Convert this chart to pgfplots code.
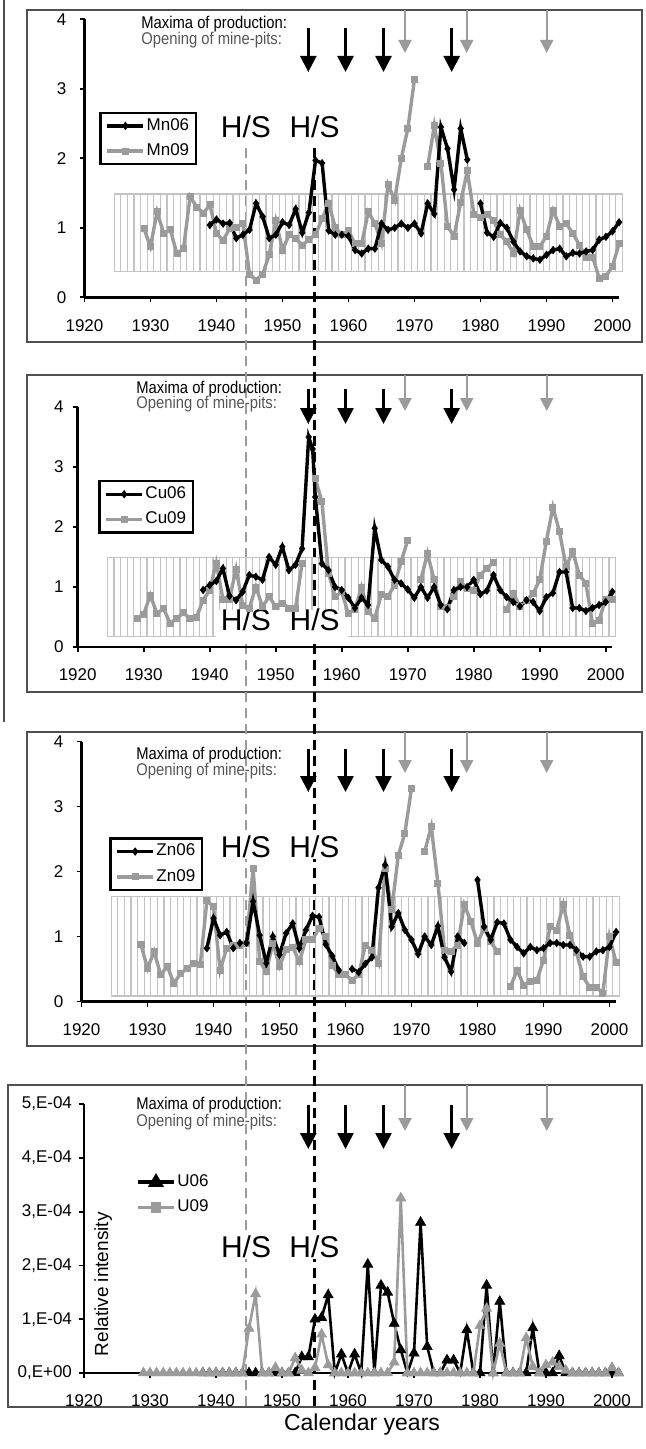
\documentclass[border=0pt]{standalone}
\usepackage{pgfplots}
\pgfplotsset{compat=1.18}
\usepackage{fontspec}
\setmainfont{Liberation Sans}
\newfontfamily\narrowfont[FakeStretch=0.87]{Liberation Sans}
\usetikzlibrary{arrows.meta}

\definecolor{sgray}{RGB}{155,155,155}
\definecolor{bandgray}{RGB}{195,195,195}
\definecolor{framegray}{RGB}{80,80,80}
\definecolor{txtgray}{RGB}{85,85,85}

\pgfplotsset{
 panel/.style={scale only axis, width=267.3pt, xmin=1920, xmax=2001, ymin=0,
  axis x line*=bottom, axis y line*=left,
  axis line style={line width=1.3pt,-},
  tick align=outside, major tick length=2.5pt,
  tick style={line width=0.9pt,black},
  xtick={1920,1930,...,2000},
  ticklabel style={font=\fontsize{8.5}{10}\selectfont},
  xticklabel style={yshift=-5pt},
  /pgf/number format/assume math mode=true,
  /pgf/number format/1000 sep={},
  clip=false, unbounded coords=jump,
  legend cell align=left,
  legend image code/.code={\draw[mark repeat=2,mark phase=2,##1] plot coordinates {(0pt,0pt) (9pt,0pt) (18pt,0pt)};},
  legend style={anchor=north west, draw=black, line width=1.2pt, font=\fontsize{8.5}{10}\selectfont,
    inner xsep=2.5pt, inner ysep=1.3pt, row sep=2.2pt, nodes={inner xsep=0.8pt, inner ysep=1.5pt}},
 },
 blk/.style={black, line width=1.7pt, mark=diamond*, mark size=1.8pt, mark options={solid, line width=0.4pt}},
 gry/.style={sgray, line width=1.7pt, mark=square*, mark size=1.5pt, mark options={solid, line width=0.4pt}},
 blkU/.style={black, line width=1.3pt, mark=triangle*, mark size=2.9pt, mark options={solid, line width=0.3pt}},
 gryU/.style={sgray, line width=1.3pt, mark=triangle*, mark size=2.9pt, mark options={solid, line width=0.3pt}},
}

\newcommand{\band}[2]{%
  \draw[bandgray, line width=0.55pt] (axis cs:1924.5,#1) rectangle (axis cs:2001.5,#2);
  \pgfplotsinvokeforeach{1925,...,2000}{\draw[bandgray, line width=0.55pt] (axis cs:##1.5,#1) -- (axis cs:##1.5,#2);}
}
\newcommand{\hs}{\fontsize{15}{17}\selectfont H/S}

\begin{document}
\begin{tikzpicture}
\path[use as bounding box] (0,0) rectangle (322.5pt,-724.5pt);

% frames, left rule and reference dashed lines (annotation, pixel coordinates)
\begin{scope}[x=0.5pt,y=-0.5pt]
\draw[framegray, line width=0.8pt] (27,10) rectangle (642,342);
\draw[framegray, line width=0.8pt] (27,375) rectangle (642,692);
\draw[framegray, line width=0.8pt] (27,732) rectangle (642,1046);
\draw[framegray, line width=0.8pt] (8,1085) rectangle (642,1407);
\draw[framegray, line width=0.6pt] (4,0) -- (4,722);
\draw[sgray, line width=1pt, dash pattern=on 5pt off 3pt] (246,148) -- (246,1407);
\draw[black, line width=1.2pt, dash pattern=on 5pt off 3pt] (314.5,148) -- (314.5,1407);
\end{scope}

% ---------------- Panel 1: Mn ----------------
\begin{axis}[panel, at={(42.25pt,-148.65pt)}, anchor=south west, height=139pt,
  ymax=4, ytick={0,1,2,3,4}, yticklabel style={xshift=-3pt},
  legend style={at={(0.028,0.668)}}]
\band{0.37}{1.486}
\node[fill=white, inner sep=0.5pt] at (axis cs:1944.47,2.45) {\hs};
\node[fill=white, inner sep=0.5pt] at (axis cs:1954.85,2.45) {\hs};
\addplot[gry, forget plot] table {
x y
1929 0.99
1930 0.73
1931 1.23
1932 0.92
1933 0.97
1934 0.63
1935 0.70
1936 1.45
1937 1.30
1938 1.21
1939 1.33
1940 0.92
1941 0.82
1942 0.99
1943 1.00
1944 1.06
1945 0.33
1946 0.25
1947 0.33
1948 0.62
1949 1.10
1950 0.68
1951 0.90
1952 0.85
1953 0.75
1954 0.83
1955 0.90
1956 1.13
1957 1.35
1958 1.00
1959 0.90
1960 0.96
1961 0.77
1962 0.77
1963 1.23
1964 1.06
1965 0.78
1966 1.62
1967 1.40
1968 2.00
1969 2.43
1970 3.14
1971 nan
1972 1.88
1973 2.47
1974 1.93
1975 1.02
1976 0.88
1977 1.37
1978 1.82
1979 1.20
1980 1.15
1981 1.20
1982 1.10
1983 0.90
1984 0.80
1985 0.63
1986 1.25
1987 0.97
1988 0.73
1989 0.73
1990 0.88
1991 1.25
1992 1.02
1993 1.06
1994 0.92
1995 0.75
1996 0.58
1997 0.58
1998 0.27
1999 0.30
2000 0.45
2001 0.77
};
\addplot[blk, forget plot] table {
x y
1939 1.04
1940 1.12
1941 1.06
1942 1.07
1943 0.85
1944 0.90
1945 0.97
1946 1.35
1947 1.16
1948 0.85
1949 0.90
1950 1.08
1951 1.04
1952 1.27
1953 0.93
1954 1.22
1955 1.97
1956 1.93
1957 0.96
1958 0.90
1959 0.90
1960 0.88
1961 0.68
1962 0.63
1963 0.70
1964 0.70
1965 1.06
1966 0.97
1967 1.00
1968 1.06
1969 1.00
1970 1.06
1971 0.92
1972 1.35
1973 1.20
1974 2.45
1975 2.14
1976 1.55
1977 2.43
1978 1.98
1979 nan
1980 1.35
1981 0.93
1982 0.87
1983 1.07
1984 1.00
1985 0.80
1986 0.66
1987 0.59
1988 0.56
1989 0.54
1990 0.61
1991 0.68
1992 0.70
1993 0.59
1994 0.64
1995 0.63
1996 0.66
1997 0.68
1998 0.83
1999 0.87
2000 0.95
2001 1.08
};
\addlegendimage{blk}\addlegendentry{Mn06}
\addlegendimage{gry}\addlegendentry{Mn09}
\end{axis}

% ---------------- Panel 2: Cu ----------------
\begin{axis}[panel, at={(38.85pt,-323.5pt)}, anchor=south west, height=120pt,
  ymax=4, ytick={0,1,2,3,4}, yticklabel style={xshift=-1pt},
  legend style={at={(0.0385,0.696)}}]
\band{0.17}{1.49}
\fill[white] (axis cs:1941,0.1) rectangle (axis cs:1961,0.62);
\node[inner sep=0.5pt] at (axis cs:1945.5,0.46) {\hs};
\node[inner sep=0.5pt] at (axis cs:1955.9,0.46) {\hs};
\addplot[gry, forget plot] table {
x y
1929 0.48
1930 0.55
1931 0.86
1932 0.56
1933 0.64
1934 0.40
1935 0.47
1936 0.57
1937 0.48
1938 0.50
1939 0.78
1940 0.95
1941 1.40
1942 0.80
1943 0.80
1944 1.30
1945 0.70
1946 0.65
1947 1.00
1948 0.67
1949 0.84
1950 0.67
1951 0.73
1952 0.65
1953 0.64
1954 1.40
1955 nan
1956 2.81
1957 2.42
1958 1.23
1959 0.84
1960 0.92
1961 0.56
1962 0.62
1963 1.00
1964 0.59
1965 0.48
1966 0.87
1967 0.84
1968 1.03
1969 1.42
1970 1.78
1971 nan
1972 1.12
1973 1.56
1974 1.12
1975 0.68
1976 0.66
1977 0.85
1978 1.09
1979 0.98
1980 0.95
1981 1.20
1982 1.31
1983 1.41
1984 nan
1985 0.62
1986 0.90
1987 0.67
1988 0.78
1989 0.89
1990 1.12
1991 1.76
1992 2.33
1993 1.92
1994 1.34
1995 1.59
1996 1.20
1997 1.06
1998 0.39
1999 0.45
2000 0.80
2001 0.80
};
\addplot[blk, forget plot] table {
x y
1939 0.95
1940 1.03
1941 1.10
1942 1.31
1943 0.85
1944 0.78
1945 0.92
1946 1.20
1947 1.17
1948 1.12
1949 1.50
1950 1.37
1951 1.67
1952 1.28
1953 1.37
1954 1.64
1955 3.50
1955.6 3.30
1956 2.50
1957 1.39
1958 1.28
1959 1.00
1960 0.95
1961 0.82
1962 0.65
1963 0.82
1964 0.70
1965 1.98
1966 1.45
1967 1.34
1968 1.12
1969 1.06
1970 0.96
1971 0.82
1972 1.00
1973 0.82
1974 1.00
1975 0.70
1976 0.63
1977 0.95
1978 1.00
1979 1.00
1980 1.12
1981 0.88
1982 0.94
1983 1.20
1984 0.95
1985 0.83
1986 0.75
1987 0.68
1988 0.78
1989 0.75
1990 0.60
1991 0.83
1992 0.90
1993 1.25
1994 1.25
1995 0.65
1996 0.65
1997 0.60
1998 0.65
1999 0.70
2000 0.75
2001 0.92
};
\addlegendimage{blk}\addlegendentry{Cu06}
\addlegendimage{gry}\addlegendentry{Cu09}
\end{axis}

% ---------------- Panel 3: Zn ----------------
\begin{axis}[panel, at={(40.75pt,-500.75pt)}, anchor=south west, height=130pt,
  ymax=4, ytick={0,1,2,3,4}, yticklabel style={xshift=-3pt},
  legend style={at={(0.052,0.6315)}}]
\band{0.085}{1.61}
\node[fill=white, inner sep=0.5pt] at (axis cs:1944.92,2.38) {\hs};
\node[fill=white, inner sep=0.5pt] at (axis cs:1955.3,2.38) {\hs};
\addplot[gry, forget plot] table {
x y
1929 0.88
1930 0.51
1931 0.77
1932 0.41
1933 0.54
1934 0.28
1935 0.43
1936 0.51
1937 0.59
1938 0.57
1939 1.55
1940 1.46
1941 0.48
1942 0.82
1943 0.87
1944 0.87
1945 0.90
1946 2.05
1947 0.62
1948 0.46
1949 0.90
1950 0.54
1951 0.80
1952 0.84
1953 0.61
1954 0.95
1955 0.95
1956 1.13
1957 1.00
1958 0.55
1959 0.41
1960 0.41
1961 0.33
1962 0.41
1963 0.87
1964 0.79
1965 0.59
1966 2.05
1967 1.41
1968 2.25
1969 2.59
1970 3.28
1971 nan
1972 2.31
1973 2.69
1974 1.82
1975 0.79
1976 0.77
1977 0.87
1978 1.49
1979 1.23
1980 0.90
1981 1.13
1982 0.92
1983 0.77
1984 nan
1985 0.23
1986 0.48
1987 0.25
1988 0.31
1989 0.33
1990 0.64
1991 1.15
1992 1.10
1993 1.49
1994 1.02
1995 0.75
1996 0.38
1997 0.22
1998 0.22
1999 0.13
2000 1.00
2001 0.60
};
\addplot[blk, forget plot] table {
x y
1939 0.82
1940 1.28
1941 1.02
1942 1.07
1943 0.82
1944 0.90
1945 0.90
1946 1.54
1947 1.02
1948 0.59
1949 1.00
1950 0.72
1951 1.05
1952 1.20
1953 0.82
1954 1.10
1955 1.32
1956 1.30
1957 0.88
1958 0.70
1959 0.48
1960 nan
1961 0.50
1962 0.45
1963 0.58
1964 0.68
1965 1.75
1966 2.10
1967 1.15
1968 1.36
1969 1.10
1970 0.95
1971 0.73
1972 1.00
1973 0.87
1974 1.16
1975 0.68
1976 0.46
1977 1.00
1978 0.90
1979 nan
1980 1.87
1981 1.15
1982 0.95
1983 1.22
1984 1.20
1985 0.95
1986 0.84
1987 0.74
1988 0.84
1989 0.79
1990 0.82
1991 0.90
1992 0.90
1993 0.87
1994 0.87
1995 0.79
1996 0.69
1997 0.69
1998 0.77
1999 0.79
2000 0.84
2001 1.07
};
\addlegendimage{blk}\addlegendentry{Zn06}
\addlegendimage{gry}\addlegendentry{Zn09}
\end{axis}

% ---------------- Panel 4: U (values in units of 1E-04) ----------------
\begin{axis}[panel, at={(42pt,-686.5pt)}, anchor=south west, height=134.5pt,
  ymax=5, ytick={0,1,2,3,4,5},
  yticklabels={{0,E+00},{1,E-04},{2,E-04},{3,E-04},{4,E-04},{5,E-04}},
  yticklabel style={xshift=0pt},
  legend style={at={(0.086,0.762)}, draw=none}]
\node[fill=white, inner sep=0.5pt] at (axis cs:1944.55,2.35) {\hs};
\node[fill=white, inner sep=0.5pt] at (axis cs:1954.92,2.35) {\hs};
\node[rotate=90, font=\fontsize{9.5}{11}\selectfont] at (axis cs:1922.9,1.65) {Relative intensity};
\addplot[blkU, forget plot] table {
x y
1938 0
1939 0
1940 0
1941 0
1942 0
1943 0
1944 0
1945 0
1946 0
1947 0
1948 0
1949 0
1950 0
1951 0
1952 0
1953 0.30
1954 0.30
1955 1.00
1956 1.03
1957 1.45
1958 0
1959 0.35
1960 0
1961 0.35
1962 0
1963 2.02
1964 0
1965 1.63
1966 1.50
1967 0.92
1968 0.43
1969 0
1970 0.37
1971 2.80
1972 0.49
1973 0
1974 0
1975 0.24
1976 0.24
1977 0
1978 0.80
1979 0
1980 0
1981 1.63
1982 0
1983 1.33
1984 0
1985 0
1986 0
1987 0
1988 0.84
1989 0
1990 0
1991 0
1992 0.32
1993 0
1994 0
1995 0
1996 0
1997 0
1998 0
1999 0
2000 0
2001 0
};
\addplot[gryU, forget plot] table {
x y
1929 0
1930 0
1931 0
1932 0
1933 0
1934 0
1935 0
1936 0
1937 0
1938 0
1939 0
1940 0
1941 0
1942 0
1943 0
1944 0
1945 0.83
1946 1.47
1947 0
1948 0
1949 0.10
1950 0
1951 0
1952 0.28
1953 0.05
1954 0
1955 0.10
1956 0.72
1957 0.15
1958 0
1959 0
1960 0
1961 0
1962 0
1963 0
1964 0
1965 0
1966 0
1967 0.20
1968 3.25
1969 0
1970 0
1971 0
1972 0
1973 0
1974 0
1975 0
1976 0
1977 0
1978 0
1979 0
1980 0.88
1981 1.20
1982 0
1983 0.55
1984 0
1985 0
1986 0
1987 0.65
1988 0.12
1989 0
1990 0.15
1991 0.20
1992 0.12
1993 0.05
1994 0
1995 0
1996 0
1997 0
1998 0
1999 0
2000 0.10
2001 0
};
\addlegendimage{black, line width=1.8pt, mark=triangle*, mark size=2.8pt}\addlegendentry{U06}
\addlegendimage{sgray, line width=1.8pt, mark=square*, mark size=1.7pt}\addlegendentry{U09}
\end{axis}

% arrows and texts (annotation, pixel coordinates)
\begin{scope}[x=0.5pt,y=-0.5pt]
\tikzset{barr/.style={black, line width=1.3pt, -{Triangle[width=8pt,length=8pt]}},
         garr/.style={sgray, line width=1pt, -{Triangle[width=6.5pt,length=6.5pt]}},
         ttl/.style={anchor=west, inner sep=0pt, font=\narrowfont\fontsize{8.5}{10}\selectfont}}
% panel 1
\foreach \x in {308.3,345.5,383.5,451.7} \draw[barr] (\x,28) -- (\x,72);
\foreach \x in {405,466.7,546.7} \draw[garr] (\x,10) -- (\x,53);
\node[ttl] at (141,24) {Maxima of production:};
\node[ttl, text=txtgray] at (141,40) {Opening of mine-pits:};
% panel 2
\foreach \x in {308.3,345.5,383.5,451.7} \draw[barr] (\x,389) -- (\x,424);
\foreach \x in {405,466.7,546.7} \draw[garr] (\x,375) -- (\x,411);
\node[ttl] at (136,389) {Maxima of production:};
\node[ttl, text=txtgray] at (136,404) {Opening of mine-pits:};
% panel 3
\foreach \x in {308.3,345.5,383.5,451.7} \draw[barr] (\x,749) -- (\x,792);
\foreach \x in {405,466.7,546.7} \draw[garr] (\x,732) -- (\x,773);
\node[ttl] at (136,755) {Maxima of production:};
\node[ttl, text=txtgray] at (136,771) {Opening of mine-pits:};
% panel 4
\foreach \x in {308.3,345.5,383.5,451.7} \draw[barr] (\x,1105) -- (\x,1149);
\foreach \x in {405,466.7,546.7} \draw[garr] (\x,1085) -- (\x,1131);
\node[ttl] at (136,1105) {Maxima of production:};
\node[ttl, text=txtgray] at (136,1122) {Opening of mine-pits:};
\node[font=\fontsize{11.5}{13}\selectfont] at (362,1425) {Calendar years};
\end{scope}
\end{tikzpicture}
\end{document}
